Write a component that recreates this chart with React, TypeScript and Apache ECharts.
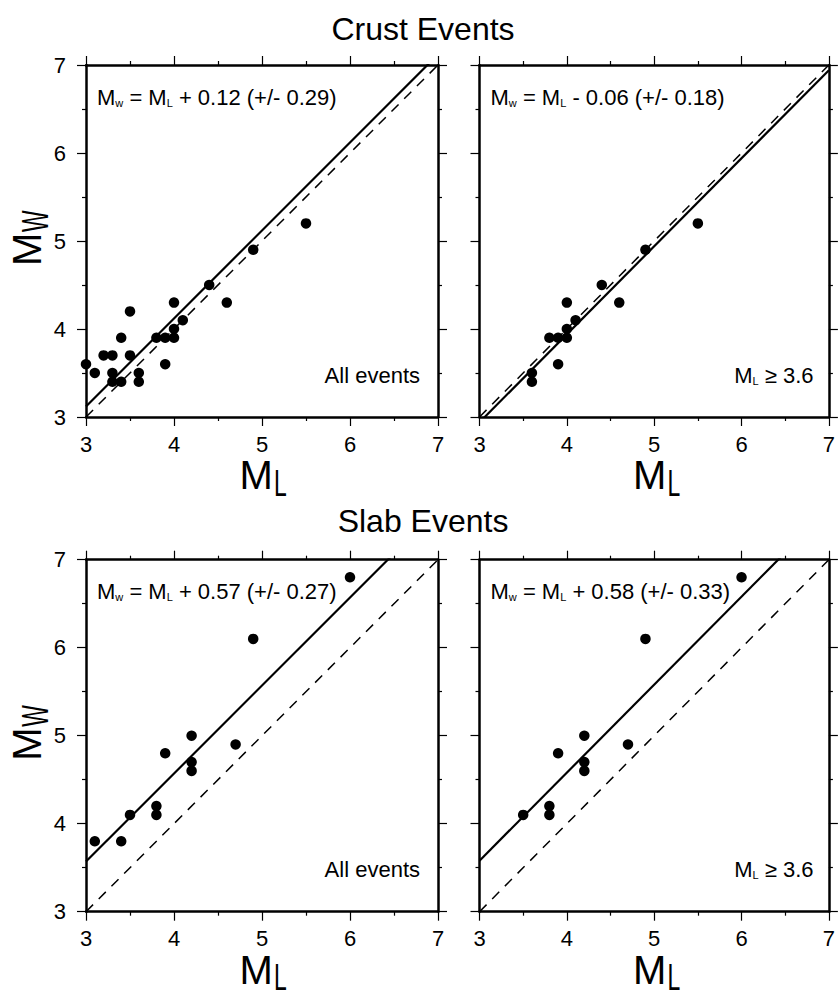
import React, { useEffect, useRef } from "react";
import * as echarts from "echarts";

const FONT = 'Arial, "Liberation Sans", Helvetica, sans-serif';

// Tick values shared by all panels
const axisMin = 3;
const axisMax = 7;
const tickLabels = ["3", "4", "5", "6", "7"];

// Crust events, all
const crustAllML = [3.0, 3.1, 3.2, 3.3, 3.3, 3.3, 3.4, 3.4, 3.5, 3.5, 3.6, 3.6, 3.8, 3.9, 3.9, 4.0, 4.0, 4.0, 4.1, 4.4, 4.6, 4.9, 5.5];
const crustAllMW = [3.6, 3.5, 3.7, 3.7, 3.5, 3.4, 3.4, 3.9, 4.2, 3.7, 3.5, 3.4, 3.9, 3.9, 3.6, 4.3, 4.0, 3.9, 4.1, 4.5, 4.3, 4.9, 5.2];
// Crust events, ML >= 3.6
const crustSubML = [3.6, 3.6, 3.8, 3.9, 3.9, 4.0, 4.0, 4.0, 4.1, 4.4, 4.6, 4.9, 5.5];
const crustSubMW = [3.5, 3.4, 3.9, 3.9, 3.6, 4.3, 4.0, 3.9, 4.1, 4.5, 4.3, 4.9, 5.2];
// Slab events, all
const slabAllML = [3.1, 3.4, 3.5, 3.8, 3.8, 3.9, 4.2, 4.2, 4.2, 4.7, 4.9, 6.0];
const slabAllMW = [3.8, 3.8, 4.1, 4.2, 4.1, 4.8, 5.0, 4.7, 4.6, 4.9, 6.1, 6.8];
// Slab events, ML >= 3.6
const slabSubML = [3.5, 3.8, 3.8, 3.9, 4.2, 4.2, 4.2, 4.7, 4.9, 6.0];
const slabSubMW = [4.1, 4.2, 4.1, 4.8, 5.0, 4.7, 4.6, 4.9, 6.1, 6.8];

// Fit offsets (Mw = ML + offset) and their uncertainties
const fitOffsets = [0.12, -0.06, 0.57, 0.58];
const fitErrors = [0.29, 0.18, 0.27, 0.33];
const panelNotes = ["All events", "ML>=3.6", "All events", "ML>=3.6"];
const panelTitles = ["Crust Events", "Slab Events"];

const panelML = [crustAllML, crustSubML, slabAllML, slabSubML];
const panelMW = [crustAllMW, crustSubMW, slabAllMW, slabSubMW];

export default function App() {
  const ref = useRef<HTMLDivElement>(null);

  useEffect(() => {
    document.body.style.margin = "0";
    const chart = echarts.init(ref.current!, undefined, { renderer: "svg" });

    const boxes = [
      { left: 86, top: 65 },
      { left: 479.5, top: 65 },
      { left: 86, top: 559.7 },
      { left: 479.5, top: 559.7 },
    ];
    const W = 352;
    const H = 352;

    const grids: any[] = [];
    const xAxes: any[] = [];
    const yAxes: any[] = [];
    const series: any[] = [];
    const graphics: any[] = [];

    const axisBase = (show: boolean) => ({
      type: "value",
      min: axisMin,
      max: axisMax,
      interval: 1,
      splitLine: { show: false },
      axisLine: { show: true, onZero: false, lineStyle: { color: "#000", width: 2.5 } },
      axisTick: { show: true, inside: false, length: 9, lineStyle: { color: "#000", width: 1.2 } },
      minorTick: { show: true, splitNumber: 2, length: 4, lineStyle: { color: "#000", width: 1.2 } },
      axisLabel: {
        show,
        color: "#000",
        fontSize: 22,
        fontFamily: FONT,
        formatter: (v: number) => tickLabels[Math.round(v - axisMin)] ?? "",
      },
    });

    const subRich = {
      m: { fontSize: 22, fontFamily: FONT, fill: "#000" },
      s: { fontSize: 11, fontFamily: FONT, fill: "#000", verticalAlign: "bottom" },
    };

    boxes.forEach((b, i) => {
      grids.push({ left: b.left, top: b.top, width: W, height: H, containLabel: false });
      const xb: any = axisBase(true);
      xb.gridIndex = i;
      xb.position = "bottom";
      xb.axisLabel.margin = 16;
      const xt: any = axisBase(false);
      xt.gridIndex = i;
      xt.position = "top";
      xAxes.push(xb, xt);
      const yl: any = axisBase(i % 2 === 0);
      yl.gridIndex = i;
      yl.position = "left";
      yl.axisLabel.margin = 20;
      const yr: any = axisBase(false);
      yr.gridIndex = i;
      yr.position = "right";
      yAxes.push(yl, yr);

      const off = fitOffsets[i];
      // 1:1 reference line
      series.push({
        type: "line",
        xAxisIndex: 2 * i,
        yAxisIndex: 2 * i,
        data: [
          [axisMin, axisMin],
          [axisMax, axisMax],
        ],
        symbol: "none",
        clip: true,
        silent: true,
        lineStyle: { color: "#000", width: 1.5, type: [10, 8] },
        z: 3,
      });
      // fit line
      series.push({
        type: "line",
        xAxisIndex: 2 * i,
        yAxisIndex: 2 * i,
        data: [
          [axisMin, axisMin + off],
          [axisMax, axisMax + off],
        ],
        symbol: "none",
        clip: true,
        silent: true,
        lineStyle: { color: "#000", width: 2.2, type: "solid" },
        z: 4,
      });
      series.push({
        type: "scatter",
        xAxisIndex: 2 * i,
        yAxisIndex: 2 * i,
        data: panelML[i].map((x, k) => [x, panelMW[i][k]]),
        symbol: "circle",
        symbolSize: 10.5,
        itemStyle: { color: "#000", opacity: 1 },
        clip: false,
        z: 5,
      });

      // equation annotation
      const sign = off >= 0 ? "+" : "-";
      const eq =
        "{m|M}{s|w}{m| = M}{s|L}{m| " +
        sign +
        " " +
        Math.abs(off).toFixed(2) +
        " (+/- " +
        fitErrors[i].toFixed(2) +
        ")}";
      graphics.push({
        type: "text",
        x: b.left + 11,
        y: b.top + 32,
        z: 10,
        style: {
          text: eq,
          align: "left",
          verticalAlign: "middle",
          fill: "#000",
          fontFamily: FONT,
          fontSize: 22,
          rich: subRich,
        },
      });

      // note at lower right
      const note = panelNotes[i];
      graphics.push({
        type: "text",
        x: b.left + W - 18,
        y: b.top + H - 42,
        z: 10,
        style:
          note === "All events"
            ? { text: note, align: "right", verticalAlign: "middle", fill: "#000", fontFamily: FONT, fontSize: 22 }
            : {
                text: "{m|M}{s|L}{m| \u2265 3.6}",
                align: "right",
                verticalAlign: "middle",
                fill: "#000",
                fontFamily: FONT,
                fontSize: 22,
                rich: subRich,
              },
      });

      // x-axis title M_L
      const cx = b.left + W / 2;
      const ty = b.top + H + 58;
      graphics.push({
        type: "text",
        x: cx - 22.5,
        y: ty,
        style: { text: "M", align: "left", verticalAlign: "middle", fill: "#000", fontFamily: FONT, fontSize: 40, lineHeight: 30 },
      });
      graphics.push({
        type: "text",
        x: cx + 12,
        y: ty + 8,
        scaleX: 0.62,
        style: { text: "L", align: "left", verticalAlign: "middle", fill: "#000", fontFamily: FONT, fontSize: 37, lineHeight: 28 },
      });

      // y-axis title M_W (left panels)
      if (i % 2 === 0) {
        const cy = b.top + H / 2;
        graphics.push({
          type: "group",
          x: 27,
          y: cy + 25,
          rotation: Math.PI / 2,
          children: [
            {
              type: "text",
              x: 0,
              y: 0,
              style: { text: "M", align: "left", verticalAlign: "middle", fill: "#000", fontFamily: FONT, fontSize: 40, lineHeight: 30 },
            },
            {
              type: "text",
              x: 34,
              y: 8,
              scaleX: 0.62,
              style: { text: "W", align: "left", verticalAlign: "middle", fill: "#000", fontFamily: FONT, fontSize: 37, lineHeight: 28 },
            },
          ],
        });
      }
    });

    // row titles
    graphics.push({
      type: "text",
      x: 423,
      y: 29,
      style: { text: panelTitles[0], align: "center", verticalAlign: "middle", fill: "#000", fontFamily: FONT, fontSize: 32 },
    });
    graphics.push({
      type: "text",
      x: 423,
      y: 521,
      style: { text: panelTitles[1], align: "center", verticalAlign: "middle", fill: "#000", fontFamily: FONT, fontSize: 32 },
    });

    chart.setOption({
      animation: false,
      backgroundColor: "#fff",
      grid: grids,
      xAxis: xAxes,
      yAxis: yAxes,
      series,
      graphic: graphics,
    });

    return () => chart.dispose();
  }, []);

  return <div ref={ref} style={{ width: 838, height: 990 }} />;
}
